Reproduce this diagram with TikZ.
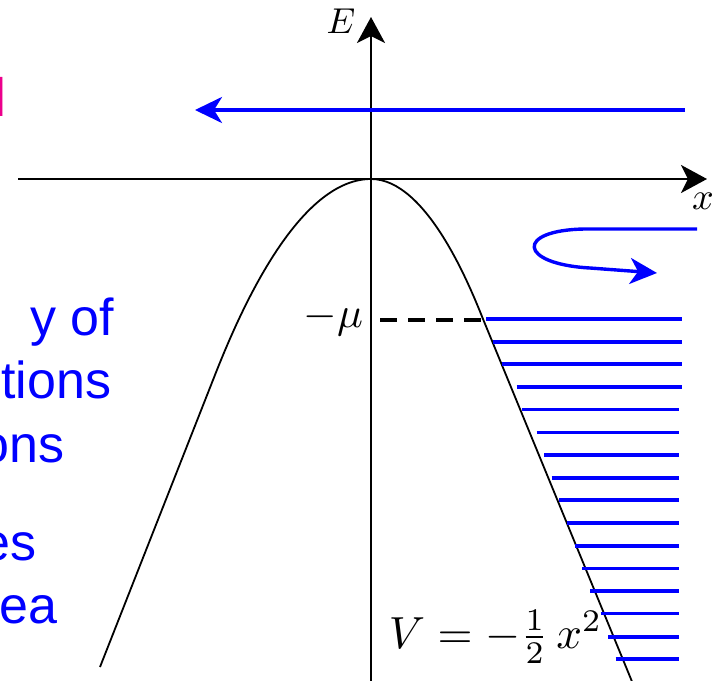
\documentclass[tikz,border=0pt]{standalone}
\usepackage{fontspec}
\setsansfont{Liberation Sans}
\usetikzlibrary{arrows.meta}
\tikzset{
  axis/.style={line width=2.8pt,-{Stealth[length=26pt,width=28pt,inset=7pt]}},
  blueline/.style={blue,line width=3.6pt},
  bluearrow/.style={blue,line width=3.4pt,-{Stealth[length=27pt,width=26pt,inset=8pt]}},
  curve/.style={line width=1.8pt},
  mathlbl/.style={inner sep=0pt},
  slide/.style={inner sep=0pt,anchor=base west,text=blue,font=\sffamily\fontsize{52}{60}\selectfont},
}
\begin{document}
\begin{tikzpicture}[x=1pt,y=-1pt]
\useasboundingbox (0,0) rectangle (712,680);
% cropped slide texts
\node[inner sep=0pt,anchor=base west,text=magenta,font=\sffamily\fontsize{54}{60}\selectfont] (t0) at (-5.4,116) {l};
\node[slide] (t1) at (30,335) {y of};
\node[slide] (t2) at (1,398) {tions};
\node[slide] (t3) at (-20,462) {ons};
\node[slide] (t4) at (-19,560) {es};
\node[slide] (t5) at (-1,623) {ea};
% axes
\coordinate (xs) at (18,179);
\coordinate (xe) at (707,179);
\coordinate (ys) at (371,685);
\coordinate (ye) at (371,17);
\draw[axis] (xs) -- (xe);
\draw[axis] (ys) -- (ye);
\node[mathlbl,scale=3.6] (E) at (341,21) {$E$};
\node[mathlbl,scale=3.8] (X) at (703,201) {$x$};
% potential curve
\coordinate (top) at (371,179);
\draw[curve] (top) parabola (213,380) -- (100,667);
\draw[curve] (top) parabola (483,319) -- (633,684);
% -mu
\coordinate (m0) at (380,320);
\coordinate (m1) at (487,320);
\draw[line width=3.6pt,dash pattern=on 17pt off 11pt] (m0) -- (m1);
\node[mathlbl,anchor=base east,scale=4.3] (mu) at (364,327) {$-\mu$};
% filled levels
\foreach \y/\xl/\xr in {319/486/682, 341.7/493.3/682, 364/501.7/682, 386.7/516.7/682, 409.3/521.7/679, 432.3/536.7/679, 455/544/679, 477.7/551.7/679, 500/559.3/679, 522.7/566.7/679, 545.7/575/679, 568.3/582.3/679, 591/590/679, 613.3/600.7/679, 636.7/608.3/679, 659/615.7/679}
  \draw[blueline] (\xl,\y) -- (\xr,\y);
% V label
\node[mathlbl,anchor=base west,scale=4.5] (V) at (388,648) {$V=-\frac{1}{2}\,x^2$};
% arrows
\coordinate (a0) at (685,110);
\coordinate (a1) at (195,110);
\draw[bluearrow] (a0) -- (a1);
\coordinate (b0) at (697,229);
\coordinate (b1) at (657,273);
\draw[bluearrow] (b0) -- (585,229) .. controls (515,230) and (518,264) .. (590,268) -- (b1);
\end{tikzpicture}
\end{document}
